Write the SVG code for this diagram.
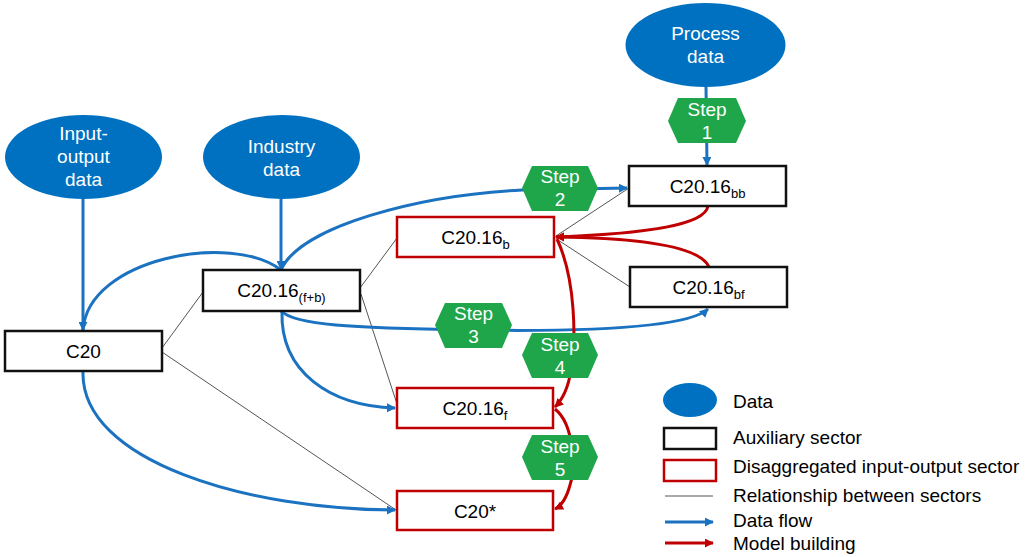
<svg xmlns="http://www.w3.org/2000/svg" width="1034" height="557" viewBox="0 0 1034 557">
<defs>
<style>
text{font-family:"Liberation Sans",Arial,sans-serif;font-size:19px;}
.data{fill:#0070c0;}
.dt{fill:#fff;text-anchor:middle;}
.aux{fill:#fff;stroke:#111;stroke-width:2.5;}
.dis{fill:#fff;stroke:#c00000;stroke-width:2.5;}
.nt{fill:#000;text-anchor:middle;}
.sub{font-size:13px;}
.hex{fill:#1fa64a;}
.ht{fill:#fff;text-anchor:middle;}
.rel{fill:none;stroke:#555;stroke-width:1;}
.flow{fill:none;stroke:#1a72c0;stroke-width:3;}
.build{fill:none;stroke:#c00000;stroke-width:3;}
.lt{fill:#000;}
</style>
<marker id="ab" viewBox="0 0 10 10" refX="9" refY="5" markerWidth="9" markerHeight="9" markerUnits="userSpaceOnUse" orient="auto"><path d="M0,0 L10,5 L0,10 z" fill="#1a72c0"/></marker>
<marker id="ar" viewBox="0 0 10 10" refX="9" refY="5" markerWidth="9" markerHeight="9" markerUnits="userSpaceOnUse" orient="auto"><path d="M0,0 L10,5 L0,10 z" fill="#c00000"/></marker>
</defs>
<rect width="1034" height="557" fill="#fff"/>

<g id="connectors">
<line class="rel" x1="162" y1="348" x2="203" y2="292"/>
<line class="rel" x1="162" y1="352" x2="396" y2="510"/>
<line class="rel" x1="360" y1="288" x2="397" y2="238"/>
<line class="rel" x1="361" y1="294" x2="397" y2="404"/>
<line class="rel" x1="556" y1="236" x2="629" y2="188"/>
<line class="rel" x1="558" y1="240" x2="630" y2="287"/>

<line class="flow" x1="83" y1="199" x2="83" y2="330" marker-end="url(#ab)"/>
<line class="flow" x1="281" y1="199" x2="281" y2="269" marker-end="url(#ab)"/>
<line class="flow" x1="706" y1="87" x2="707" y2="165" marker-end="url(#ab)"/>
<path class="flow" d="M83,330 C88,258 232,232 281,270"/>
<path class="flow" d="M281,270 C300,226 420,195 522,190 L627,188" marker-end="url(#ab)"/>
<path class="flow" d="M281,311 C295,325 350,328 470,330 C600,332 690,326 708,309" marker-end="url(#ab)"/>
<path class="flow" d="M282,311 C280,372 330,406 395,408" marker-end="url(#ab)"/>
<path class="flow" d="M83,371 C80,462 250,510 395,510" marker-end="url(#ab)"/>

<path class="build" d="M708,206 C705,226 640,234 556,237" marker-end="url(#ar)"/>
<path class="build" d="M709,267 C700,246 640,238 556,237" marker-end="url(#ar)"/>
<path class="build" d="M557,239 C576,280 576,340 571,370 C568,390 562,400 555,407" marker-end="url(#ar)"/>
<path class="build" d="M555,409 C575,425 575,470 570,485 C566,500 561,506 555,509" marker-end="url(#ar)"/>
</g>

<g id="io-data">
<ellipse class="data" cx="83.5" cy="157" rx="78.5" ry="42"/>
<text class="dt" x="83.5" y="140">Input-</text>
<text class="dt" x="83.5" y="163">output</text>
<text class="dt" x="83.5" y="186">data</text>
</g>
<g id="industry-data">
<ellipse class="data" cx="281.5" cy="157" rx="78.5" ry="42"/>
<text class="dt" x="281.5" y="153">Industry</text>
<text class="dt" x="281.5" y="176">data</text>
</g>
<g id="process-data">
<ellipse class="data" cx="705.5" cy="45" rx="80" ry="42"/>
<text class="dt" x="705.5" y="40">Process</text>
<text class="dt" x="705.5" y="63">data</text>
</g>

<g id="c20">
<rect class="aux" x="5" y="331" width="157" height="40"/>
<text class="nt" x="83.5" y="358">C20</text>
</g>
<g id="c2016fb">
<rect class="aux" x="203" y="270" width="157" height="41"/>
<text class="nt" x="281.5" y="297">C20.16<tspan class="sub" dy="5">(f+b)</tspan></text>
</g>
<g id="c2016b">
<rect class="dis" x="397" y="217" width="157" height="40"/>
<text class="nt" x="475.5" y="244">C20.16<tspan class="sub" dy="5">b</tspan></text>
</g>
<g id="c2016bb">
<rect class="aux" x="629" y="166" width="157" height="40"/>
<text class="nt" x="707.5" y="193">C20.16<tspan class="sub" dy="5">bb</tspan></text>
</g>
<g id="c2016bf">
<rect class="aux" x="630" y="267" width="157" height="40"/>
<text class="nt" x="708.5" y="294">C20.16<tspan class="sub" dy="5">bf</tspan></text>
</g>
<g id="c2016f">
<rect class="dis" x="397" y="388" width="156" height="40"/>
<text class="nt" x="475" y="415">C20.16<tspan class="sub" dy="5">f</tspan></text>
</g>
<g id="c20star">
<rect class="dis" x="397" y="491" width="156" height="39"/>
<text class="nt" x="475" y="518">C20*</text>
</g>

<g id="step1">
<polygon class="hex" points="668,121 678,98 736,98 746,121 736,143 678,143"/>
<text class="ht" x="707" y="116">Step</text>
<text class="ht" x="707" y="139">1</text>
</g>
<g id="step2">
<polygon class="hex" points="522,188 532,166 588,166 598,188 588,211 532,211"/>
<text class="ht" x="560" y="183">Step</text>
<text class="ht" x="560" y="206">2</text>
</g>
<g id="step3">
<polygon class="hex" points="435,325 445,303 502,303 512,325 502,348 445,348"/>
<text class="ht" x="473.5" y="320">Step</text>
<text class="ht" x="473.5" y="343">3</text>
</g>
<g id="step4">
<polygon class="hex" points="522,355 532,333 588,333 598,355 588,378 532,378"/>
<text class="ht" x="560" y="351">Step</text>
<text class="ht" x="560" y="374">4</text>
</g>
<g id="step5">
<polygon class="hex" points="522,457 532,435 588,435 598,457 588,480 532,480"/>
<text class="ht" x="560" y="453">Step</text>
<text class="ht" x="560" y="476">5</text>
</g>

<g id="legend">
<ellipse class="data" cx="690" cy="400" rx="27" ry="17"/>
<text class="lt" x="733" y="408">Data</text>
<rect class="aux" x="664" y="428" width="52" height="21"/>
<text class="lt" x="733" y="444">Auxiliary sector</text>
<rect class="dis" x="664" y="460" width="52" height="21"/>
<text class="lt" x="733" y="473">Disaggregated input-output sector</text>
<line class="rel" x1="665" y1="496" x2="713" y2="496" stroke="#888"/>
<text class="lt" x="733" y="502">Relationship between sectors</text>
<line class="flow" x1="665" y1="522" x2="713" y2="522" stroke-width="2.5" marker-end="url(#ab)"/>
<text class="lt" x="733" y="527">Data flow</text>
<line class="build" x1="665" y1="543" x2="713" y2="543" stroke-width="2.5" marker-end="url(#ar)"/>
<text class="lt" x="733" y="550">Model building</text>
</g>
</svg>
